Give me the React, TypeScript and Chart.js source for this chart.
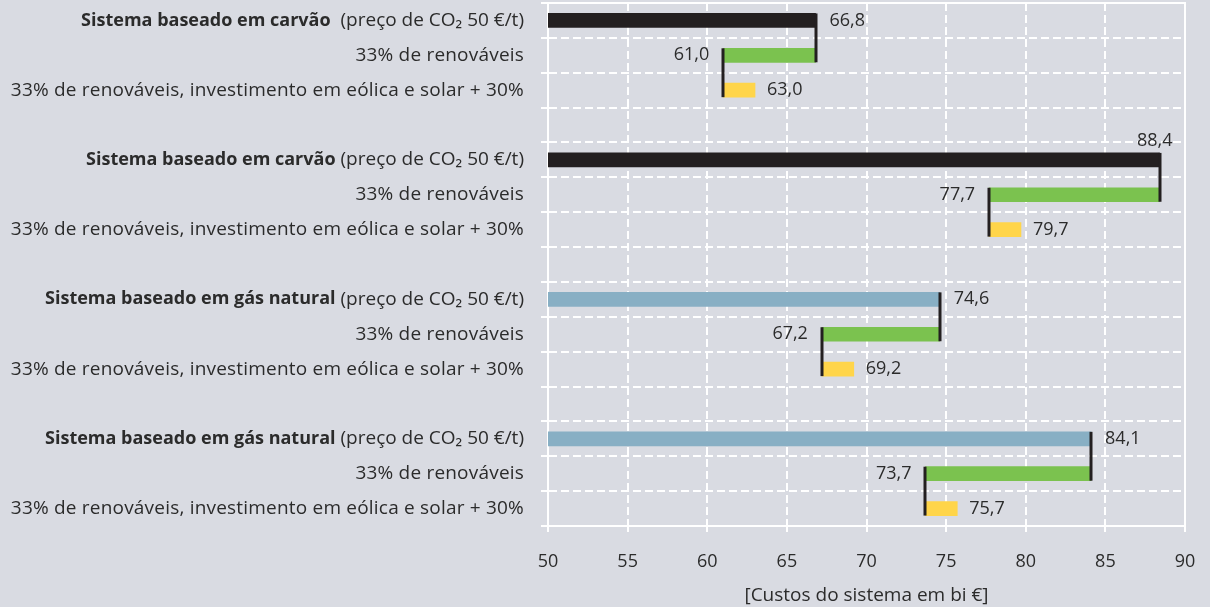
import React, { useEffect, useRef } from 'react';
import { Chart, registerables } from 'chart.js';

Chart.register(...registerables);

// Axis range (bi €)
const AXIS_MIN = 50;
const AXIS_MAX = 90;
const AXIS_STEP = 5;
const axisTitle = '[Custos do sistema em bi €]';

// Scenario names (bold part + regular suffix)
const systemNames = [
  'Sistema baseado em carvão',
  'Sistema baseado em carvão',
  'Sistema baseado em gás natural',
  'Sistema baseado em gás natural',
];
const systemSuffixes = [
  '  (preço de CO₂ 50 €/t)',
  ' (preço de CO₂ 50 €/t)',
  ' (preço de CO₂ 50 €/t)',
  ' (preço de CO₂ 50 €/t)',
];
const renewableLabel = '33% de renováveis';
const expandedLabel = '33% de renováveis, investimento em eólica e solar + 30%';

// System costs per scenario
const baseCosts = [66.8, 88.4, 74.6, 84.1];
const renewableCosts = [61.0, 77.7, 67.2, 73.7];
const expandedCosts = [63.0, 79.7, 69.2, 75.7];

// Colours
const baseColors = ['#231f20', '#231f20', '#88afc4', '#88afc4'];
const renewableColor = '#7bc24f';
const expandedColor = '#ffd54a';
const connectorColor = '#231f20';
const textColor = '#2b2b2b';
const pageBg = '#d9dbe2';

type Row = { kind: 'base' | 'renew' | 'exp' | 'gap'; g: number };

const rows: Row[] = [];
baseCosts.forEach((_, g) => {
  rows.push({ kind: 'base', g }, { kind: 'renew', g }, { kind: 'exp', g });
  if (g < baseCosts.length - 1) rows.push({ kind: 'gap', g });
});

const fmt = (v: number) => v.toFixed(1).replace('.', ',');

const FONT = '"Open Sans", Roboto, sans-serif';
const FONT_SIZE = 18;
const LABEL_SIZE = 19;

export default function App() {
  const ref = useRef<HTMLCanvasElement | null>(null);

  useEffect(() => {
    document.body.style.margin = '0';
    document.body.style.background = pageBg;
    if (!ref.current) return;

    const labels = rows.map((r, i) => `r${i}`);
    const data = rows.map((r) => {
      if (r.kind === 'base') return [AXIS_MIN, baseCosts[r.g]];
      if (r.kind === 'renew') return [renewableCosts[r.g], baseCosts[r.g]];
      if (r.kind === 'exp') return [renewableCosts[r.g], expandedCosts[r.g]];
      return null;
    });
    const colors = rows.map((r) =>
      r.kind === 'base' ? baseColors[r.g] : r.kind === 'renew' ? renewableColor : r.kind === 'exp' ? expandedColor : 'transparent'
    );

    const bgPlugin = {
      id: 'pageBg',
      beforeDraw(chart: any) {
        const { ctx, width, height } = chart;
        ctx.save();
        ctx.fillStyle = pageBg;
        ctx.fillRect(0, 0, width, height);
        ctx.restore();
      },
    };

    const framePlugin = {
      id: 'frame',
      beforeDatasetsDraw(chart: any) {
        const { ctx, chartArea: a } = chart;
        ctx.save();
        ctx.strokeStyle = '#ffffff';
        ctx.lineWidth = 2;
        ctx.setLineDash([]);
        ctx.strokeRect(a.left, a.top, a.right - a.left, a.bottom - a.top);
        ctx.restore();
      },
    };

    const annotatePlugin = {
      id: 'annotate',
      afterDatasetsDraw(chart: any) {
        const { ctx, chartArea: a } = chart;
        const xs = chart.scales.x;
        const meta = chart.getDatasetMeta(0);
        const px = (v: number) => xs.getPixelForValue(v);
        ctx.save();

        // connector lines
        ctx.strokeStyle = connectorColor;
        ctx.lineWidth = 3;
        rows.forEach((r, i) => {
          if (r.kind !== 'base') return;
          const bEl = meta.data[i];
          const rEl = meta.data[i + 1];
          const eEl = meta.data[i + 2];
          const x1 = Math.round(px(baseCosts[r.g]));
          ctx.beginPath();
          ctx.moveTo(x1, bEl.y - bEl.height / 2);
          ctx.lineTo(x1, rEl.y + rEl.height / 2);
          ctx.stroke();
          const x2 = Math.round(px(renewableCosts[r.g]));
          ctx.beginPath();
          ctx.moveTo(x2, rEl.y - rEl.height / 2);
          ctx.lineTo(x2, eEl.y + eEl.height / 2);
          ctx.stroke();
        });

        // value labels
        ctx.fillStyle = textColor;
        ctx.font = `${FONT_SIZE}px ${FONT}`;
        ctx.textBaseline = 'middle';
        const gap = 14;
        rows.forEach((r, i) => {
          const el = meta.data[i];
          if (r.kind === 'gap') return;
          if (r.kind === 'base') {
            const t = fmt(baseCosts[r.g]);
            const x = px(baseCosts[r.g]);
            const w = ctx.measureText(t).width;
            if (x + gap + w > a.right) {
              ctx.textAlign = 'right';
              ctx.fillText(t, x + gap - 1, el.y - 19);
            } else {
              ctx.textAlign = 'left';
              ctx.fillText(t, x + gap, el.y);
            }
          } else if (r.kind === 'renew') {
            ctx.textAlign = 'right';
            ctx.fillText(fmt(renewableCosts[r.g]), px(renewableCosts[r.g]) - gap, el.y);
          } else {
            ctx.textAlign = 'left';
            ctx.fillText(fmt(expandedCosts[r.g]), px(expandedCosts[r.g]) + 12, el.y);
          }
        });

        // category labels
        const lx = a.left - 24;
        const ys = chart.scales.y;
        rows.forEach((r, i) => {
          if (r.kind === 'gap') return;
          const y = ys.getPixelForValue(i);
          ctx.textAlign = 'right';
          if (r.kind === 'base') {
            ctx.font = `${LABEL_SIZE}px ${FONT}`;
            (ctx as any).letterSpacing = '0px';
            const suffix = systemSuffixes[r.g];
            ctx.fillText(suffix, lx, y);
            const sw = ctx.measureText(suffix).width;
            ctx.font = `bold ${FONT_SIZE}px ${FONT}`;
            ctx.fillText(systemNames[r.g], lx - sw, y);
          } else {
            ctx.font = `${LABEL_SIZE}px ${FONT}`;
            (ctx as any).letterSpacing = '0.2px';
            ctx.fillText(r.kind === 'renew' ? renewableLabel : expandedLabel, lx, y);
            (ctx as any).letterSpacing = '0px';
          }
        });
        ctx.restore();
      },
    };

    const chart = new Chart(ref.current, {
      type: 'bar',
      data: {
        labels,
        datasets: [
          {
            data: data as any,
            backgroundColor: colors,
            borderWidth: 0,
            barThickness: 14,
            borderSkipped: false,
          },
        ],
      },
      options: {
        indexAxis: 'y',
        responsive: false,
        animation: false,
        layout: { padding: { top: 3, right: 25, bottom: 0, left: 0 } },
        plugins: { legend: { display: false }, tooltip: { enabled: false } },
        scales: {
          x: {
            type: 'linear',
            min: AXIS_MIN,
            max: AXIS_MAX,
            ticks: {
              stepSize: AXIS_STEP,
              color: textColor,
              font: { family: FONT, size: FONT_SIZE },
              padding: 19,
            },
            grid: { color: '#ffffff', lineWidth: 2, tickLength: 6, tickColor: '#ffffff', tickWidth: 2 },
            border: { display: true, color: '#ffffff', width: 2, dash: [8, 4] },
            title: {
              display: true,
              text: axisTitle,
              color: textColor,
              font: { family: FONT, size: LABEL_SIZE },
              padding: { top: 0, bottom: 0 },
            },
            afterFit(scale: any) {
              scale.height = 81;
              scale.paddingLeft = 0;
              scale.paddingRight = 0;
            },
          },
          y: {
            type: 'category',
            ticks: { display: false },
            grid: { color: '#ffffff', lineWidth: 2, tickLength: 7, tickColor: '#ffffff', tickWidth: 2, offset: true },
            border: { display: true, color: '#ffffff', width: 2, dash: [8, 4] },
            afterFit(scale: any) {
              scale.width = 548;
            },
          },
        },
      },
      plugins: [bgPlugin, framePlugin, annotatePlugin],
    });
    return () => chart.destroy();
  }, []);

  return (
    <div style={{ width: 1210, height: 607, background: pageBg }}>
      <canvas ref={ref} width={1210} height={607} />
    </div>
  );
}
